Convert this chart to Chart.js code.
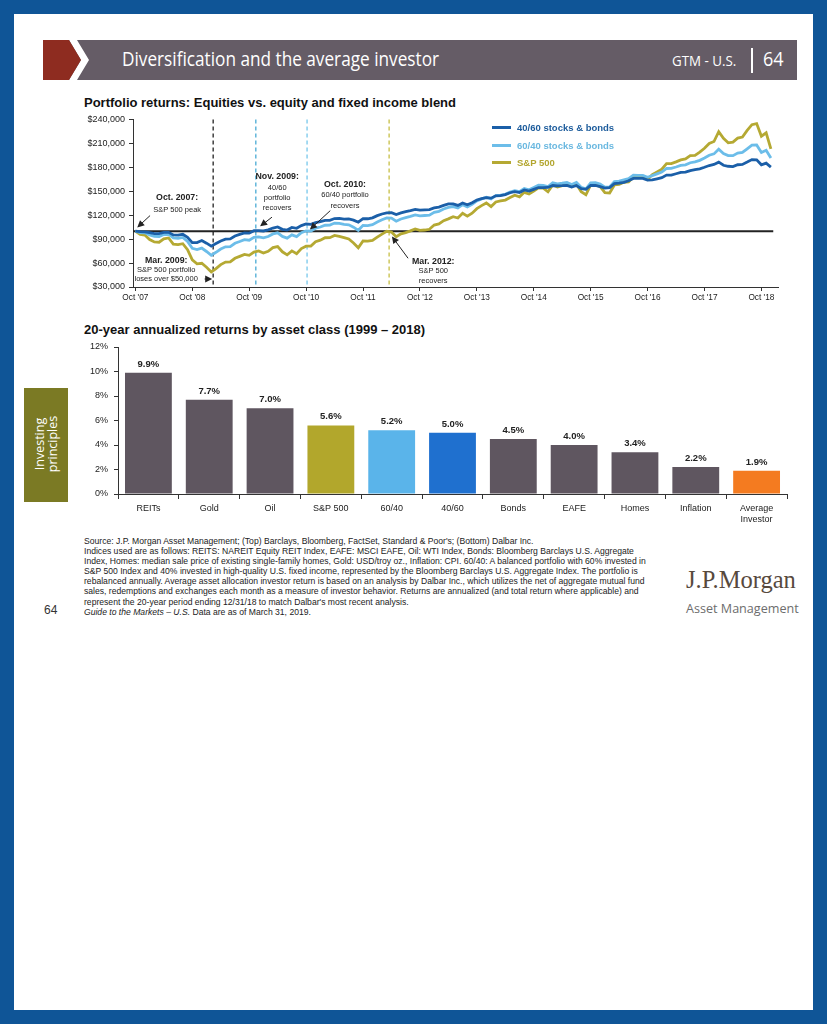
<!DOCTYPE html>
<html>
<head>
<meta charset="utf-8">
<script src="https://cdn.jsdelivr.net/npm/chart.js@4.4.1/dist/chart.umd.min.js"></script>
<style>
html, body { margin: 0; padding: 0; }
body { width: 827px; height: 1024px; background: #0f5597; position: relative; overflow: hidden; font-family: "Liberation Sans", Arial, sans-serif; color: #222; }
.abs { position: absolute; }
#page { left: 14px; top: 14px; width: 799px; height: 996px; background: #fff; }
#title { left: 122px; top: 45px; font: 20px "Open Sans", sans-serif; color: #fff; transform: scaleX(0.86); transform-origin: left top; white-space: nowrap; }
#gtm { left: 672px; top: 50px; font: 15px "Open Sans", sans-serif; color: #fff; transform: scaleX(0.89); transform-origin: left top; white-space: nowrap; }
#bar { left: 751px; top: 48px; width: 2px; height: 25px; background: #fff; }
#pg { left: 763px; top: 45px; font: 20px "Open Sans", sans-serif; color: #fff; transform: scaleX(0.9); transform-origin: left top; }
.h2 { left: 84px; font: bold 13px "Liberation Sans", Arial, sans-serif; color: #111; white-space: nowrap; }
.lg { position: absolute; left: 492px; height: 14px; font: bold 9.5px "Liberation Sans", Arial, sans-serif; white-space: nowrap; }
.lg i { display: inline-block; width: 19px; height: 3px; vertical-align: middle; margin-right: 6px; position: relative; top: -1px; }
#tab { left: 24px; top: 388px; width: 44px; height: 114px; background: #7b7a24; }
#tabtxt { left: 46px; top: 445px; width: 0; height: 0; }
#tabtxt div { position: absolute; left: -40px; top: -14px; width: 80px; text-align: center; transform: rotate(-90deg); font: 12.5px/13px "Open Sans", sans-serif; color: #fff; }
#src { left: 84px; top: 536px; font: 8.6px/10.1px "Liberation Sans Narrow", "Arial Narrow", sans-serif; color: #222; white-space: nowrap; }
#num { left: 44px; top: 603px; font: 12px "Liberation Sans", Arial, sans-serif; color: #333; }
#jpm { left: 686px; top: 566px; font: 24.5px "Liberation Serif", "DejaVu Serif", serif; color: #57493d; white-space: nowrap; }
#am { left: 686px; top: 600px; font: 12.6px "Open Sans", sans-serif; color: #6d6d6d; white-space: nowrap; }
canvas { position: absolute; }
</style>
</head>
<body>
<div id="page" class="abs"></div>
<svg class="abs" style="left:0;top:0" width="827" height="90">
  <rect x="43" y="40" width="754" height="40" fill="#655c66"/>
  <polygon points="69,40 77,40 89,60 77,80 69,80 81,60" fill="#fff"/>
  <polygon points="43,40 69,40 81,60 69,80 43,80" fill="#8e2c20"/>
</svg>
<div id="title" class="abs">Diversification and the average investor</div>
<div id="gtm" class="abs">GTM - U.S.</div>
<div id="bar" class="abs"></div>
<div id="pg" class="abs">64</div>

<div class="abs h2" style="top:95px">Portfolio returns: Equities vs. equity and fixed income blend</div>
<canvas id="lineChart" width="730" height="202" style="left:70px;top:110px"></canvas>
<div id="legend"></div>

<div class="abs h2" style="top:322px">20-year annualized returns by asset class (1999 – 2018)</div>
<canvas id="barChart" width="740" height="194" style="left:60px;top:335px"></canvas>

<div id="tab" class="abs"></div>
<div id="tabtxt" class="abs"><div>Investing<br>principles</div></div>

<div id="src" class="abs">Source: J.P. Morgan Asset Management; (Top) Barclays, Bloomberg, FactSet, Standard &amp; Poor's; (Bottom) Dalbar Inc.<br>
Indices used are as follows: REITS: NAREIT Equity REIT Index, EAFE: MSCI EAFE, Oil: WTI Index, Bonds: Bloomberg Barclays U.S. Aggregate<br>
Index, Homes: median sale price of existing single-family homes, Gold: USD/troy oz., Inflation: CPI. 60/40: A balanced portfolio with 60% invested in<br>
S&amp;P 500 Index and 40% invested in high-quality U.S. fixed income, represented by the Bloomberg Barclays U.S. Aggregate Index. The portfolio is<br>
rebalanced annually. Average asset allocation investor return is based on an analysis by Dalbar Inc., which utilizes the net of aggregate mutual fund<br>
sales, redemptions and exchanges each month as a measure of investor behavior. Returns are annualized (and total return where applicable) and<br>
represent the 20-year period ending 12/31/18 to match Dalbar's most recent analysis.<br>
<i>Guide to the Markets – U.S.</i> Data are as of March 31, 2019.</div>
<div id="num" class="abs">64</div>
<div id="jpm" class="abs">J.P.Morgan</div>
<div id="am" class="abs">Asset Management</div>

<script>
// Top chart: growth of $100k, monthly from Oct 2007 (index 0) to Dec 2018 (index 134), in $ thousands
var seriesNames = ['40/60 stocks & bonds', '60/40 stocks & bonds', 'S&P 500'];
var seriesColors = ['#1b5fa8', '#6cbde9', '#b5a933'];
var legendTextColors = ['#1d5c9c', '#6ab8e0', '#b3a62f'];

var blend4060 = [
  100, 99.4, 99.2, 98.0, 96.9, 97.0, 98.5, 98.5, 95.3, 95.0, 96.0, 92.2, 85.6, 85.7, 88.3,
  84.9, 81.2, 84.4, 87.7, 90.0, 90.3, 93.9, 95.9, 97.9, 97.5, 100.6, 100.6,
  100.2, 101.6, 103.9, 105.2, 102.3, 101.3, 104.6, 103.6, 107.0, 108.9, 108.4, 110.7,
  111.8, 113.5, 113.6, 115.8, 116.1, 115.1, 115.3, 113.8, 111.2, 115.7, 115.5, 116.7,
  119.4, 121.5, 122.9, 123.2, 120.8, 122.8, 124.5, 125.7, 127.2, 126.3, 126.7, 127.0,
  129.1, 130.2, 132.3, 134.2, 134.2, 132.2, 135.3, 133.1, 135.6, 139.1, 140.7, 141.9,
  141.3, 144.2, 144.6, 145.7, 148.1, 149.4, 148.3, 151.6, 150.1, 152.3, 154.6, 154.5,
  154.7, 157.2, 156.6, 156.9, 157.4, 155.2, 157.2, 153.2, 152.3, 157.2, 157.2, 155.8,
  154.0, 154.6, 159.5, 160.1, 161.2, 163.1, 166.1, 166.0, 166.0, 164.0, 164.1, 165.5,
  167.0, 170.3, 170.3, 171.9, 173.6, 174.0, 175.9, 177.1, 178.1, 180.0, 182.2, 183.5,
  186.4, 182.5, 181.3, 180.8, 183.2, 183.6, 186.5, 189.6, 189.4, 183.1, 185.2, 180.2
];
var blend6040 = [
  100, 98.2, 97.9, 95.2, 93.4, 93.3, 95.8, 96.1, 91.5, 91.0, 92.1, 87.0, 78.4, 76.8, 78.7,
  74.5, 69.7, 73.5, 77.6, 80.4, 80.7, 84.8, 87.0, 89.4, 88.6, 92.2, 92.8,
  91.5, 93.2, 96.5, 97.9, 93.4, 91.2, 95.3, 93.2, 98.0, 100.4, 100.1, 103.7,
  105.2, 107.4, 107.5, 110.1, 109.7, 108.5, 107.9, 105.0, 101.0, 107.3, 107.0, 108.1,
  111.4, 114.3, 116.6, 116.4, 112.4, 115.2, 116.9, 118.5, 120.4, 119.1, 119.6, 120.1,
  123.5, 124.8, 127.7, 129.8, 130.8, 128.9, 133.2, 130.3, 133.5, 137.9, 140.4, 142.4,
  140.4, 144.4, 145.1, 146.2, 148.9, 150.8, 149.4, 153.5, 151.8, 154.6, 157.5, 157.3,
  155.9, 160.5, 159.3, 160.0, 160.9, 158.4, 161.0, 154.9, 153.0, 160.6, 160.7, 158.9,
  155.1, 155.4, 162.1, 162.7, 164.4, 165.9, 170.0, 169.9, 169.9, 167.5, 169.6, 171.8,
  174.0, 178.5, 178.6, 180.4, 182.4, 183.1, 185.7, 186.7, 188.7, 191.6, 195.1, 196.8,
  202.7, 197.3, 194.7, 194.6, 197.9, 198.6, 203.2, 207.7, 208.0, 198.5, 201.4, 191.6
];
var sp500 = [
  100, 95.8, 95.1, 89.5, 86.5, 86.1, 90.4, 91.5, 83.8, 83.1, 84.2, 76.7, 63.9, 59.1, 59.7,
  54.7, 48.8, 53.0, 58.1, 61.3, 61.4, 66.0, 68.4, 70.9, 69.7, 73.8, 75.2,
  72.6, 74.8, 79.3, 80.6, 74.1, 70.3, 75.3, 71.8, 78.2, 81.2, 81.2, 86.7,
  88.7, 91.7, 91.8, 94.6, 93.4, 91.9, 90.1, 85.1, 79.1, 87.8, 87.5, 88.4,
  92.4, 96.3, 99.8, 98.9, 92.9, 96.7, 98.1, 100.3, 102.8, 100.9, 101.4, 102.3,
  107.6, 109.0, 113.1, 115.4, 118.0, 116.4, 122.4, 118.7, 122.5, 128.2, 132.0, 135.3,
  130.8, 136.6, 137.8, 138.9, 142.1, 145.0, 143.0, 148.6, 146.5, 150.2, 154.2, 153.8,
  149.3, 157.8, 155.3, 156.9, 158.7, 155.7, 159.1, 149.3, 145.6, 158.0, 158.3, 155.8,
  148.2, 147.8, 157.9, 158.5, 161.2, 161.7, 167.7, 167.8, 167.8, 164.8, 170.8, 174.2,
  177.6, 184.5, 184.7, 186.8, 189.3, 190.5, 194.5, 195.0, 199.0, 203.8, 209.9, 212.3,
  224.6, 216.2, 210.7, 211.6, 216.5, 217.9, 226.2, 233.4, 234.8, 218.9, 223.1, 203.0
];
var xTickMonths = [0, 12, 24, 36, 48, 60, 72, 84, 96, 108, 120, 132];
var xTickLabels = ["Oct '07", "Oct '08", "Oct '09", "Oct '10", "Oct '11", "Oct '12", "Oct '13", "Oct '14", "Oct '15", "Oct '16", "Oct '17", "Oct '18"];
var baseline = 100;

// event markers (month index), dashed line colours
var eventMonths = [16.4, 25.4, 36.2, 53.5];
var eventColors = ['#111111', '#3aa3d0', '#6cc3ea', '#c2b936'];

// annotation notes: text anchor (month, value) and arrow tail/head in the same units
var notes = [
  { m: 8.8, v: [142, 127], lines: ['Oct. 2007:', 'S&P 500 peak'], arrow: [3.1, 119.5, 0.4, 104.6] },
  { m: 6.5, v: [63.6, 51.2, 40], lines: ['Mar. 2009:', 'S&P 500 portfolio', 'loses over $50,000'], arrow: [14.6, 40, 16.2, 40] },
  { m: 29.9, v: [168, 154.3, 141.9, 129.4], lines: ['Nov. 2009:', '40/60', 'portfolio', 'recovers'], arrow: [28.8, 117.5, 26.3, 106] },
  { m: 44.2, v: [158, 145.6, 132], lines: ['Oct. 2010:', '60/40 portfolio', 'recovers'], arrow: [41.1, 125.7, 36.8, 102.1] },
  { m: 62.8, v: [62.4, 50, 37.5], lines: ['Mar. 2012:', 'S&P 500', 'recovers'], arrow: [57.5, 66, 54.1, 93.4] }
];

// Bottom chart
var assetClasses = ['REITs', 'Gold', 'Oil', 'S&P 500', '60/40', '40/60', 'Bonds', 'EAFE', 'Homes', 'Inflation', ['Average', 'Investor']];
var annualizedReturns = [9.9, 7.7, 7.0, 5.6, 5.2, 5.0, 4.5, 4.0, 3.4, 2.2, 1.9];
var barColors = ['#5f5660', '#5f5660', '#5f5660', '#b2a72c', '#5ab4ea', '#1f70cf', '#5f5660', '#5f5660', '#5f5660', '#5f5660', '#f47b20'];

Chart.defaults.font.family = "'Liberation Sans', Arial, sans-serif";
Chart.defaults.color = '#222';
Chart.defaults.animation = false;

// legend
var legendTops = [122, 140, 157];
var lg = document.getElementById('legend');
seriesNames.forEach(function(name, i) {
    var d = document.createElement('div');
    d.className = 'lg';
    d.style.top = legendTops[i] + 'px';
    d.innerHTML = '<i style="background:' + seriesColors[i] + '"></i>';
    var s = document.createElement('span');
    s.style.color = legendTextColors[i];
    s.textContent = name;
    d.appendChild(s);
    lg.appendChild(d);
});

function toPoints(arr) {
    return arr.map(function(v, i) { return { x: i, y: v }; });
}

function arrow(ctx, x1, y1, x2, y2) {
    var a = Math.atan2(y2 - y1, x2 - x1);
    ctx.beginPath();
    ctx.moveTo(x1, y1);
    ctx.lineTo(x2 - 4 * Math.cos(a), y2 - 4 * Math.sin(a));
    ctx.stroke();
    ctx.beginPath();
    ctx.moveTo(x2, y2);
    ctx.lineTo(x2 - 7 * Math.cos(a) + 3.5 * Math.sin(a), y2 - 7 * Math.sin(a) - 3.5 * Math.cos(a));
    ctx.lineTo(x2 - 7 * Math.cos(a) - 3.5 * Math.sin(a), y2 - 7 * Math.sin(a) + 3.5 * Math.cos(a));
    ctx.closePath();
    ctx.fill();
}

var linePlugin = {
    id: 'lineExtras',
    beforeDatasetsDraw: function(chart) {
        var ctx = chart.ctx, xs = chart.scales.x, ys = chart.scales.y, area = chart.chartArea;
        ctx.save();
        // dashed event lines
        ctx.lineWidth = 1.2;
        ctx.setLineDash([4, 3]);
        eventMonths.forEach(function(m, i) {
            var x = xs.getPixelForValue(m);
            ctx.strokeStyle = eventColors[i];
            ctx.beginPath();
            ctx.moveTo(x, area.top);
            ctx.lineTo(x, area.bottom);
            ctx.stroke();
        });
        ctx.setLineDash([]);
        // $100,000 line
        var yb = ys.getPixelForValue(baseline);
        ctx.strokeStyle = '#222';
        ctx.lineWidth = 2;
        ctx.beginPath();
        ctx.moveTo(area.left, yb);
        ctx.lineTo(xs.getPixelForValue(134.5), yb);
        ctx.stroke();
        ctx.restore();
    },
    afterDatasetsDraw: function(chart) {
        var ctx = chart.ctx, xs = chart.scales.x, ys = chart.scales.y;
        ctx.save();
        ctx.textAlign = 'center';
        ctx.textBaseline = 'middle';
        ctx.fillStyle = '#222';
        ctx.strokeStyle = '#222';
        ctx.lineWidth = 1;
        notes.forEach(function(n) {
            var x = xs.getPixelForValue(n.m);
            n.lines.forEach(function(t, i) {
                ctx.font = i === 0 ? "bold 8.8px 'Liberation Sans', Arial, sans-serif" : "7.5px 'Liberation Sans', Arial, sans-serif";
                ctx.fillText(t, x, ys.getPixelForValue(n.v[i]));
            });
            arrow(ctx, xs.getPixelForValue(n.arrow[0]), ys.getPixelForValue(n.arrow[1]),
                  xs.getPixelForValue(n.arrow[2]), ys.getPixelForValue(n.arrow[3]));
        });
        ctx.restore();
    }
};

new Chart(document.getElementById('lineChart'), {
    type: 'line',
    data: {
        datasets: [
            { label: seriesNames[0], data: toPoints(blend4060), borderColor: seriesColors[0], borderWidth: 2.8, pointRadius: 0, tension: 0 },
            { label: seriesNames[1], data: toPoints(blend6040), borderColor: seriesColors[1], borderWidth: 2.8, pointRadius: 0, tension: 0 },
            { label: seriesNames[2], data: toPoints(sp500), borderColor: seriesColors[2], borderWidth: 2.8, pointRadius: 0, tension: 0 }
        ]
    },
    options: {
        responsive: false,
        layout: { padding: { top: 8, right: 22, left: 0, bottom: 0 } },
        plugins: { legend: { display: false }, tooltip: { enabled: false } },
        scales: {
            x: {
                type: 'linear',
                min: -0.5,
                max: 135.5,
                afterBuildTicks: function(scale) {
                    scale.ticks = xTickMonths.map(function(m) { return { value: m }; });
                },
                afterFit: function(scale) { scale.height = 25; },
                ticks: {
                    autoSkip: false,
                    maxRotation: 0,
                    padding: 2,
                    font: { size: 8.3 },
                    callback: function(v) {
                        var i = xTickMonths.indexOf(v);
                        return i >= 0 ? xTickLabels[i] : '';
                    }
                },
                grid: { drawOnChartArea: false, tickLength: 4, color: '#333' },
                border: { color: '#333', width: 1 }
            },
            y: {
                min: 30,
                max: 240,
                afterFit: function(scale) { scale.width = 63; },
                ticks: {
                    stepSize: 30,
                    padding: 4,
                    font: { size: 9 },
                    callback: function(v) { return '$' + (v * 1000).toLocaleString('en-US'); }
                },
                grid: { drawOnChartArea: false, tickLength: 4, color: '#333' },
                border: { color: '#333', width: 1 }
            }
        }
    },
    plugins: [linePlugin]
});

var barLabelPlugin = {
    id: 'barLabels',
    afterDatasetsDraw: function(chart) {
        var ctx = chart.ctx;
        ctx.save();
        ctx.font = "bold 9.5px 'Liberation Sans', Arial, sans-serif";
        ctx.fillStyle = '#222';
        ctx.textAlign = 'center';
        ctx.textBaseline = 'alphabetic';
        chart.getDatasetMeta(0).data.forEach(function(bar, i) {
            ctx.fillText(annualizedReturns[i].toFixed(1) + '%', bar.x, bar.y - 6);
        });
        ctx.restore();
    }
};

new Chart(document.getElementById('barChart'), {
    type: 'bar',
    data: {
        labels: assetClasses,
        datasets: [{ data: annualizedReturns, backgroundColor: barColors, categoryPercentage: 0.77, barPercentage: 1 }]
    },
    options: {
        responsive: false,
        layout: { padding: { top: 12, right: 13, left: 0, bottom: 0 } },
        plugins: { legend: { display: false }, tooltip: { enabled: false } },
        scales: {
            x: {
                afterFit: function(scale) { scale.height = 35; },
                ticks: { autoSkip: false, maxRotation: 0, padding: 4, font: { size: 9 } },
                grid: { drawOnChartArea: false, tickLength: 5, color: '#333', offset: true },
                border: { color: '#333', width: 1 }
            },
            y: {
                min: 0,
                max: 12,
                afterFit: function(scale) { scale.width = 58; },
                ticks: { stepSize: 2, padding: 6, font: { size: 9 }, callback: function(v) { return v + '%'; } },
                grid: { drawOnChartArea: false, tickLength: 4, color: '#333' },
                border: { color: '#333', width: 1 }
            }
        }
    },
    plugins: [barLabelPlugin]
});
</script>
</body>
</html>
